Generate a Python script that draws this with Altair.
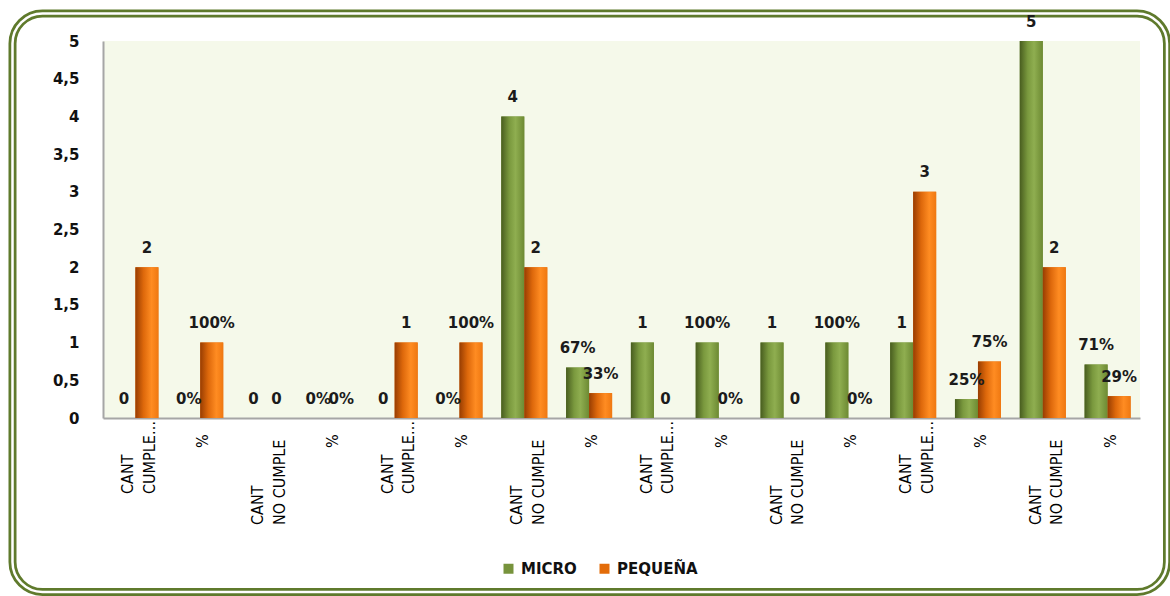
import altair as alt
import pandas as pd

# Category labels (two-line labels use "\n")
categories = [
    "CANT\nCUMPLE…", "%", "CANT\nNO CUMPLE", "%",
    "CANT\nCUMPLE…", "%", "CANT\nNO CUMPLE", "%",
    "CANT\nCUMPLE…", "%", "CANT\nNO CUMPLE", "%",
    "CANT\nCUMPLE…", "%", "CANT\nNO CUMPLE", "%",
]
micro = [0, 0, 0, 0, 0, 0, 4, 0.67, 1, 1, 1, 1, 1, 0.25, 5, 0.71]
pequena = [2, 1, 0, 0, 1, 1, 2, 0.33, 0, 0, 0, 0, 3, 0.75, 2, 0.29]
series_names = ["MICRO", "PEQUEÑA"]
series_colors = ["#77933c", "#e36c09"]
y_ticks = [0, 0.5, 1, 1.5, 2, 2.5, 3, 3.5, 4, 4.5, 5]

W, H = 1037, 377
PAD = {"left": 103, "top": 41, "right": 30, "bottom": 178}
TXT_FONT = "DejaVu Sans"
CAT_FONT = "Liberation Sans Narrow, DejaVu Sans Condensed, Arial Narrow, sans-serif"

rows = []
for i, cat in enumerate(categories):
    is_pct = cat == "%"
    for name, vals in zip(series_names, [micro, pequena]):
        v = vals[i]
        label = f"{round(v * 100)}%" if is_pct else f"{v:g}"
        rows.append({"idx": i, "series": name, "value": v, "label": label})
df = pd.DataFrame(rows)

lab_rows = []
for i, cat in enumerate(categories):
    parts = cat.split("\n")
    kind = "pct" if cat == "%" else ("no" if "NO" in cat else "si")
    lab_rows.append({"idx": i, "line1": parts[0],
                     "line2": parts[1] if len(parts) > 1 else "", "kind": kind})
labs = pd.DataFrame(lab_rows)

x_enc = alt.X(
    "idx:O",
    scale=alt.Scale(domain=list(range(len(categories))), paddingInner=0.29, paddingOuter=0.145),
    axis=alt.Axis(labels=False, ticks=False, title=None, domainColor="#a6a6a6", domainWidth=2),
)
x_off = alt.XOffset("series:N", scale=alt.Scale(domain=series_names, paddingInner=0, paddingOuter=0))
y_enc = alt.Y(
    "value:Q",
    scale=alt.Scale(domain=[0, 5], nice=False),
    axis=alt.Axis(
        values=y_ticks, title=None, grid=False, ticks=False,
        labelExpr="replace(format(datum.value, '.1~f'), '.', ',')",
        labelFont=TXT_FONT, labelFontSize=15, labelFontWeight="bold", labelColor="#111111",
        labelPadding=24, domainColor="#a6a6a6", domainWidth=2,
    ),
)

base = alt.Chart(df)

# rounded double-line frame around the whole chart
frame_df = pd.DataFrame({"k": [0]})
frame_pos = dict(x=alt.value(12.5 - PAD["left"]), x2=alt.value(1167 - PAD["left"]),
                 y=alt.value(13.5 - PAD["top"]), y2=alt.value(592 - PAD["top"]))
frame_outer = alt.Chart(frame_df).mark_rect(
    filled=False, color="#5f7a2c", strokeWidth=8, cornerRadius=30
).encode(**frame_pos)
frame_inner = alt.Chart(frame_df).mark_rect(
    filled=False, color="#ffffff", strokeWidth=2.5, cornerRadius=30
).encode(**frame_pos)

# solid bars carry the legend
solid = base.mark_bar().encode(
    x=x_enc, xOffset=x_off, y=y_enc,
    color=alt.Color(
        "series:N",
        scale=alt.Scale(domain=series_names, range=series_colors),
        legend=alt.Legend(
            orient="none", legendX=398, legendY=520, direction="horizontal", title=None,
            symbolType="square", symbolSize=100, symbolStrokeWidth=0, padding=0,
            columnPadding=20, labelOffset=5, labelFont=TXT_FONT, labelFontSize=15,
            labelFontWeight="bold", labelColor="#111111",
        ),
    ),
)

green_grad = alt.Gradient(
    gradient="linear", x1=0, x2=1, y1=0, y2=0,
    stops=[alt.GradientStop(offset=0, color="#485d1f"),
           alt.GradientStop(offset=0.35, color="#7a993e"),
           alt.GradientStop(offset=0.62, color="#8fae50"),
           alt.GradientStop(offset=1, color="#6d8a33")],
)
orange_grad = alt.Gradient(
    gradient="linear", x1=0, x2=1, y1=0, y2=0,
    stops=[alt.GradientStop(offset=0, color="#983d02"),
           alt.GradientStop(offset=0.35, color="#dd680b"),
           alt.GradientStop(offset=0.7, color="#ff8c22"),
           alt.GradientStop(offset=1, color="#ef7811")],
)
bars_micro = base.transform_filter(alt.datum.series == "MICRO").mark_bar(color=green_grad).encode(
    x=x_enc, xOffset=x_off, y=y_enc)
bars_peq = base.transform_filter(alt.datum.series == "PEQUEÑA").mark_bar(color=orange_grad).encode(
    x=x_enc, xOffset=x_off, y=y_enc)

values = base.mark_text(
    font=TXT_FONT, fontSize=15, fontWeight="bold", color="#1b1b1b", baseline="middle", dy=-19.5
).encode(x=x_enc, xOffset=x_off, y=y_enc, text="label:N")

# rotated category labels below the axis
bottoms = {"si": 453, "no": 484, "pct": 407}
cat_layers = []
for kind, ybot in bottoms.items():
    sub = alt.Chart(labs).transform_filter(alt.datum.kind == kind)
    if kind == "pct":
        cat_layers.append(sub.mark_text(
            font=CAT_FONT, fontSize=16, color="#000000", angle=270, align="left",
            baseline="middle", dy=3).encode(x=x_enc, y=alt.value(ybot), text="line1:N"))
    else:
        cat_layers.append(sub.mark_text(
            font=CAT_FONT, fontSize=16, color="#000000", angle=270, align="left",
            baseline="middle", dy=-7).encode(x=x_enc, y=alt.value(ybot), text="line1:N"))
        cat_layers.append(sub.mark_text(
            font=CAT_FONT, fontSize=16, color="#000000", angle=270, align="left",
            baseline="middle", dy=14.5).encode(x=x_enc, y=alt.value(ybot), text="line2:N"))

chart = alt.layer(
    frame_outer, frame_inner, solid, bars_micro, bars_peq, values, *cat_layers
).properties(
    width=W, height=H,
    autosize=alt.AutoSizeParams(type="none"),
    padding=PAD,
    background="#ffffff",
).configure_view(
    fill="#f5f9ea", strokeWidth=0
)

chart.save("out.html", embed_options={"renderer": "svg", "actions": False})
